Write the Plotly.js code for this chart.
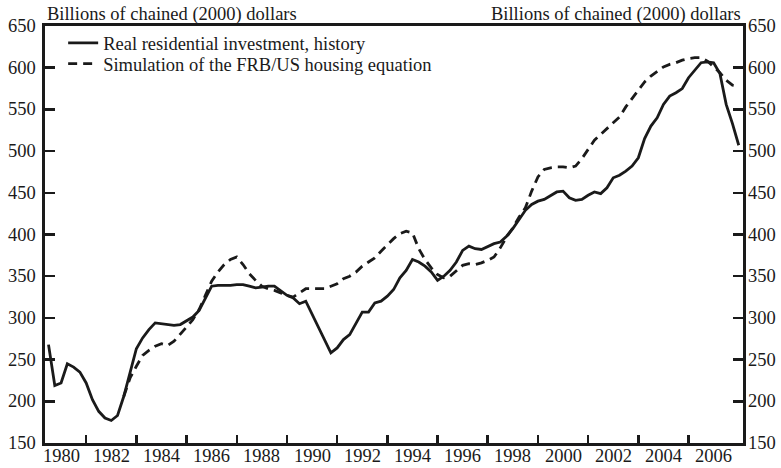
<!DOCTYPE html>
<html>
<head>
<meta charset="utf-8">
<script src="https://cdn.plot.ly/plotly-3.0.1.min.js"></script>
<style>
  html, body { margin: 0; padding: 0; background: #ffffff; }
  #chart { width: 781px; height: 468px; }
</style>
</head>
<body>
<div id="chart"></div>
<script>
// Quarterly data, 1980Q1 .. 2007Q3 (billions of chained 2000 dollars)
const startYear = 1980;
const history = [
  268, 219, 222, 245, 241, 235, 222, 202, 188, 180,
  177, 183, 206, 236, 263, 276, 286, 294, 293, 292,
  291, 292, 296, 301, 309, 324, 338, 339, 339, 339,
  340, 340, 338, 336, 337, 338, 338, 332, 327, 324,
  317, 320, 305, 290, 274, 258, 264, 274, 280, 293,
  307, 307, 318, 320, 326, 334, 348, 357, 370, 367,
  362, 355, 345, 350, 357, 367, 381, 386, 383, 382,
  386, 389, 391, 398, 407, 418, 429, 436, 440, 442,
  446, 451, 452, 444, 441, 442, 447, 451, 449, 456,
  468, 471, 476, 482, 492, 515, 530, 540, 556, 566,
  570, 575, 588, 597, 606, 607, 606, 593, 556, 533,
  507
];
// Simulation starts in 1983Q1 (quarter index 12)
const simStartIndex = 12;
const simulation = [
  206, 228, 242, 255, 261, 266, 269, 267, 272, 280,
  289, 298, 310, 327, 344, 355, 364, 370, 373, 364,
  353, 345, 338, 335, 333, 330, 327, 325, 330, 335,
  335, 335, 335, 338, 341, 347, 350, 355, 362, 367,
  372, 380, 388, 395, 401, 404, 402, 383, 370, 360,
  352, 348, 350, 357, 363, 365, 364, 366, 369, 373,
  384, 397, 408, 421, 432, 452, 469, 478, 480, 481,
  481, 480, 482, 491, 502, 513, 520, 527, 535, 541,
  553, 563, 572, 583, 590, 596, 601, 604, 606, 609,
  611, 612, 612, 608, 601, 594, 585, 579, 578
];
const yearLabels = [1980, 1982, 1984, 1986, 1988, 1990, 1992, 1994, 1996, 1998, 2000, 2002, 2004, 2006];
const tickYears = [1981, 1983, 1985, 1987, 1989, 1991, 1993, 1995, 1997, 1999, 2001, 2003, 2005];
const yTicks = [150, 200, 250, 300, 350, 400, 450, 500, 550, 600, 650];
const seriesNames = ["Real residential investment, history", "Simulation of the FRB/US housing equation"];
const unitLabel = "Billions of chained (2000) dollars";

const qx = i => startYear + i / 4;
const histX = history.map((_, i) => qx(i));
const simX = simulation.map((_, i) => qx(i + simStartIndex));

const FONT = "Liberation Serif";
const FS = 18.5;
const INK = "#1a1a1a";
const XRANGE = [1979.86, 2007.67];
const textFont = { family: FONT, size: FS, color: INK };

const traces = [
  { x: histX, y: history, type: 'scatter', mode: 'lines', name: seriesNames[0],
    legend: 'legend', line: { color: INK, width: 2.8 } },
  { x: simX, y: simulation, type: 'scatter', mode: 'lines', name: seriesNames[1],
    legend: 'legend2', line: { color: INK, width: 2.8, dash: '9px,6px' } },
  { x: [histX[0]], y: [history[0]], yaxis: 'y2', type: 'scatter', mode: 'none',
    showlegend: false, hoverinfo: 'skip' }
];

const yAxisCommon = {
  range: [150, 650], tickmode: 'array', tickvals: yTicks,
  ticks: 'inside', ticklen: 10, tickwidth: 2.5, tickcolor: INK,
  showticklabels: false,
  showline: true, linewidth: 3, linecolor: INK,
  showgrid: false, zeroline: false
};

const legendCommon = {
  x: 0.026, xanchor: 'left', yanchor: 'top',
  bgcolor: 'rgba(0,0,0,0)', borderwidth: 0,
  font: textFont
};

// Tick labels as text placed through the axes' own scales
const annotations = [];
yTicks.forEach(v => {
  annotations.push({ text: String(v), xref: 'paper', yref: 'y', x: 0, y: v,
    xanchor: 'right', yanchor: 'middle', xshift: -7, showarrow: false, font: textFont });
  annotations.push({ text: String(v), xref: 'paper', yref: 'y', x: 1, y: v,
    xanchor: 'left', yanchor: 'middle', xshift: 3, showarrow: false, font: textFont });
});
yearLabels.forEach(yr => {
  annotations.push({ text: String(yr), xref: 'x', yref: 'paper', x: yr + 0.5, y: 0,
    xanchor: 'center', yanchor: 'top', yshift: -1, showarrow: false, font: textFont });
});
annotations.push(
  { text: unitLabel, xref: 'paper', yref: 'paper', x: 0, y: 1,
    xanchor: 'left', yanchor: 'bottom', yshift: -1, showarrow: false, font: textFont },
  { text: unitLabel, xref: 'paper', yref: 'paper', x: 1, y: 1,
    xanchor: 'right', yanchor: 'bottom', yshift: -1, showarrow: false, font: textFont }
);

const layout = {
  width: 781, height: 468,
  margin: { l: 45, r: 38, t: 26, b: 25 },
  paper_bgcolor: '#ffffff', plot_bgcolor: '#ffffff',
  font: textFont,
  showlegend: true,
  legend: Object.assign({}, legendCommon, { y: 1.004 }),
  legend2: Object.assign({}, legendCommon, { y: 0.954 }),
  xaxis: {
    range: XRANGE,
    tickmode: 'array',
    tickvals: tickYears.map(y => y + 0.5),
    ticks: 'inside', ticklen: 8, tickwidth: 2.5, tickcolor: INK,
    showticklabels: false,
    showline: true, linewidth: 3, linecolor: INK, mirror: true,
    showgrid: false, zeroline: false
  },
  yaxis: Object.assign({}, yAxisCommon, { side: 'left' }),
  yaxis2: Object.assign({}, yAxisCommon, { side: 'right', overlaying: 'y' }),
  annotations: annotations
};

Plotly.newPlot('chart', traces, layout, { displayModeBar: false, staticPlot: true });
</script>
</body>
</html>
